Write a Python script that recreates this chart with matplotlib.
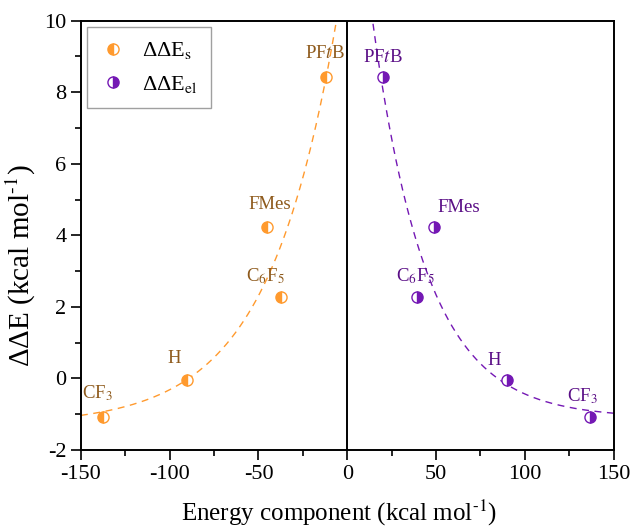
"""Steric vs electrostatic energy components (ddE vs energy component)."""

import numpy as np
import matplotlib
matplotlib.use("Agg")
import matplotlib.pyplot as plt
from matplotlib.lines import Line2D

plt.rcParams["font.family"] = ["Liberation Serif", "DejaVu Serif"]
plt.rcParams["mathtext.fontset"] = "stix"
plt.rcParams["axes.unicode_minus"] = False

# data
labels = ["CF$_3$", "H", "C$_6$F$_5$", "FMes", "PF$t$B"]
dde = [-1.08, -0.05, 2.27, 4.23, 8.42]
e_steric = [-137.5, -90.3, -37.6, -45.2, -12.1]
e_elec = [136.5, 89.8, 39.3, 48.8, 20.2]

# exponential fit parameters (y0, A, t) for the dashed guide curves
fit_s = (-1.3, 13.24, 38.5)
fit_el = (-1.1, 17.7, 30.5)

# label offsets in points (dx, dy)
off_s = [(-4, 17), (-9, 16), (-11, 15), (2, 16), (-1, 17)]
off_el = [(-5, 15), (-9, 14), (-1, 15), (18, 14), (0, 14)]

orange = "#FF9A2E"
purple = "#7418B4"
orange_txt = "#8E5A1C"
purple_txt = "#5A0E86"

fig = plt.figure(figsize=(6.32, 5.27), dpi=100)
ax = fig.add_axes([0.128, 0.146, 0.843, 0.815])

xs = np.linspace(-150, 0, 400)
y0, a, t = fit_s
ax.plot(xs, y0 + a * np.exp(xs / t), ls=(0, (5, 4)), color=orange, lw=1.0)
xe = np.linspace(0, 150, 400)
y0, a, t = fit_el
ax.plot(xe, y0 + a * np.exp(-xe / t), ls=(0, (5, 4)), color=purple, lw=1.0)

ax.axvline(0, color="black", lw=1.4)

ax.plot(e_steric, dde, ls="none", marker="o", ms=8, fillstyle="left",
        color=orange, markerfacecoloralt="white", mec=orange, mew=1.0)
ax.plot(e_elec, dde, ls="none", marker="o", ms=8, fillstyle="right",
        color=purple, markerfacecoloralt="white", mec=purple, mew=1.0)

for lab, x, y, off in zip(labels, e_steric, dde, off_s):
    ax.annotate(lab, (x, y), xytext=off, textcoords="offset points",
                ha="center", va="center", fontsize=13.5, color=orange_txt)
for lab, x, y, off in zip(labels, e_elec, dde, off_el):
    ax.annotate(lab, (x, y), xytext=off, textcoords="offset points",
                ha="center", va="center", fontsize=13.5, color=purple_txt)

ax.set_xlim(-150, 150)
ax.set_ylim(-2, 10)
ax.set_xticks(np.arange(-150, 151, 50))
ax.set_xticks(np.arange(-125, 150, 50), minor=True)
ax.set_yticks(np.arange(-2, 11, 2))
ax.set_yticks(np.arange(-1, 10, 2), minor=True)
ax.tick_params(which="major", length=7, width=1.2, labelsize=16, direction="out")
ax.tick_params(which="minor", length=4, width=1.2, direction="out")
for sp in ax.spines.values():
    sp.set_linewidth(1.4)

ax.set_xlabel("Energy component (kcal mol$^{\\text{-}1}$)", fontsize=18)
ax.xaxis.set_label_coords(0.484, -0.112)
ax.set_ylabel("ΔΔE (kcal mol$^{\\text{-}1}$)", fontsize=21)
ax.yaxis.set_label_coords(-0.08, 0.43)

handles = [
    Line2D([], [], ls="none", marker="o", ms=8, fillstyle="left", color=orange,
           markerfacecoloralt="white", mec=orange, mew=1.0),
    Line2D([], [], ls="none", marker="o", ms=8, fillstyle="right", color=purple,
           markerfacecoloralt="white", mec=purple, mew=1.0),
]
leg = ax.legend(handles, ["ΔΔE$_\\mathrm{s}$", "ΔΔE$_\\mathrm{el}$"], loc="upper left",
                fontsize=16, fancybox=False, edgecolor="#888888", handlelength=1.2,
                borderpad=0.6, labelspacing=0.55, handletextpad=0.7,
                borderaxespad=0, bbox_to_anchor=(0.011, 0.985))
leg.get_frame().set_linewidth(1.0)

fig.savefig("out.png", dpi=100)
